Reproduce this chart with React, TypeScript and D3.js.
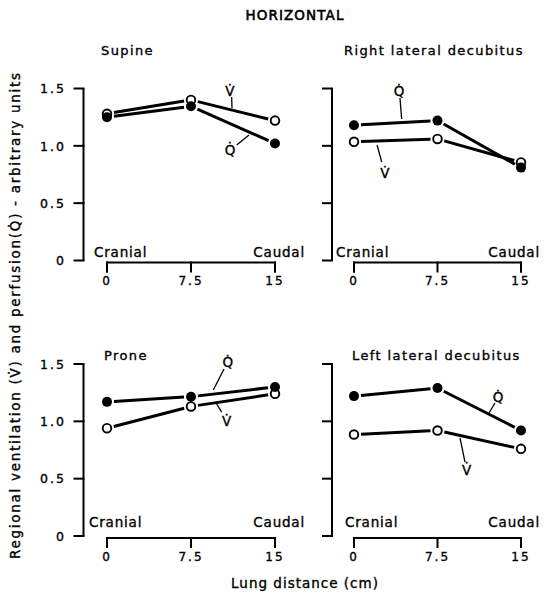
import React from "react";
import * as d3 from "d3";

const xTicks = [0, 7.5, 15];
const xTickLabels = ["0", "7.5", "15"];
const yTicks = [0, 0.5, 1.0, 1.5];
const yTickLabels = ["0", "0.5", "1.0", "1.5"];
const distances = [0, 7.5, 15];

const supineV = [1.28, 1.4, 1.22];
const supineQ = [1.25, 1.345, 1.02];
const rightV = [1.035, 1.06, 0.855];
const rightQ = [1.18, 1.22, 0.81];
const proneV = [0.94, 1.13, 1.24];
const proneQ = [1.17, 1.215, 1.3];
const leftV = [0.885, 0.92, 0.76];
const leftQ = [1.22, 1.29, 0.92];

const panelTitles = ["Supine", "Right lateral decubitus", "Prone", "Left lateral decubitus"];

type Ann = { t: string; x: number; y: number; l: [number, number, number, number] };
const supineAnn: Ann[] = [
  { t: "V", x: 10.98, y: 1.478, l: [11.13, 1.426, 11.16, 1.33] },
  { t: "Q", x: 10.98, y: 0.964, l: [11.58, 1.007, 12.68, 1.094] },
];
const rightAnn: Ann[] = [
  { t: "Q", x: 4.04, y: 1.478, l: [4.13, 1.417, 4.28, 1.234] },
  { t: "V", x: 2.78, y: 0.763, l: [2.07, 1.007, 2.49, 0.859] },
];
const proneAnn: Ann[] = [
  { t: "Q", x: 10.78, y: 1.517, l: [10.45, 1.456, 9.49, 1.273] },
  { t: "V", x: 10.69, y: 1.003, l: [9.79, 1.151, 10.24, 1.081] },
];
const leftAnn: Ann[] = [
  { t: "Q", x: 12.93, y: 1.212, l: [12.66, 1.16, 12.13, 1.073] },
  { t: "V", x: 10.12, y: 0.576, l: [9.52, 0.855, 9.97, 0.645] },
];

const FONT = "'DejaVu Sans', sans-serif";
const TS = { stroke: "#000", strokeWidth: 0.35 };

type PanelProps = {
  title: string;
  V: number[];
  Q: number[];
  ann: Ann[];
  axisX: number;
  x0: number;
  x1: number;
  y0: number;
  y1: number;
  showYLabels: boolean;
  titleX: number;
  titleY: number;
  cranialX: number;
  caudalEnd: number;
  craniaY: number;
};

function segs(pts: [number, number][], gap: number) {
  const out: string[] = [];
  for (let i = 0; i < pts.length - 1; i++) {
    const [ax, ay] = pts[i];
    const [bx, by] = pts[i + 1];
    const dx = bx - ax, dy = by - ay;
    const len = Math.hypot(dx, dy);
    const ux = dx / len, uy = dy / len;
    const p = d3.path();
    p.moveTo(ax + ux * gap, ay + uy * gap);
    p.lineTo(bx - ux * gap, by - uy * gap);
    out.push(p.toString());
  }
  return out;
}

function Panel(p: PanelProps) {
  const xs = d3.scaleLinear().domain([0, 15]).range([p.x0, p.x1]);
  const ys = d3.scaleLinear().domain([0, 1.5]).range([p.y0, p.y1]);
  const line = (vals: number[]) => vals.map((v, i) => [xs(distances[i]), ys(v)] as [number, number]);
  const vPts = line(p.V);
  const qPts = line(p.Q);
  const xAxisY = p.y0 + 2;
  return (
    <g>
      <text x={p.titleX} y={p.titleY} fontSize={13} letterSpacing={1.4} fontFamily={FONT} {...TS}>{p.title}</text>
      <path d={`M${p.axisX},${ys(1.5)}V${ys(0)}`} stroke="#000" strokeWidth={2} fill="none" />
      {yTicks.map((t, i) => (
        <g key={i}>
          <line x1={p.axisX - 10} x2={p.axisX + 1} y1={ys(t)} y2={ys(t)} stroke="#000" strokeWidth={2} />
          {p.showYLabels && (
            <text x={66} y={ys(t) + 4.8} textAnchor="end" fontSize={12.5} letterSpacing={2} fontFamily={FONT} {...TS}>
              {yTickLabels[i]}
            </text>
          )}
        </g>
      ))}
      <path d={`M${xs(0)},${xAxisY + 10}V${xAxisY}H${xs(15)}V${xAxisY + 10}`} stroke="#000" strokeWidth={2} fill="none" />
      {xTicks.map((t, i) => (
        <g key={i}>
          <line x1={xs(t)} x2={xs(t)} y1={xAxisY - 1} y2={xAxisY + 10} stroke="#000" strokeWidth={2} />
          <text x={xs(t)} y={xAxisY + 22.5} textAnchor="middle" fontSize={12} letterSpacing={2} fontFamily={FONT} {...TS}>
            {xTickLabels[i]}
          </text>
        </g>
      ))}
      <text x={p.cranialX} y={p.craniaY} fontSize={13.5} letterSpacing={0.8} fontFamily={FONT} {...TS}>Cranial</text>
      <text x={p.caudalEnd} y={p.craniaY} textAnchor="end" fontSize={13.5} letterSpacing={0.8} fontFamily={FONT} {...TS}>Caudal</text>
      {segs(vPts, 7).map((d, i) => (
        <path key={"v" + i} d={d} stroke="#000" strokeWidth={3} fill="none" />
      ))}
      {segs(qPts, 7).map((d, i) => (
        <path key={"q" + i} d={d} stroke="#000" strokeWidth={3} fill="none" />
      ))}
      {vPts.map(([x, y], i) => (
        <circle key={"vc" + i} cx={x} cy={y} r={4.3} fill="#fff" stroke="#000" strokeWidth={1.9} />
      ))}
      {qPts.map(([x, y], i) => (
        <circle key={"qc" + i} cx={x} cy={y} r={5} fill="#000" />
      ))}
      {p.ann.map((a, i) => (
        <g key={"a" + i}>
          <line x1={xs(a.l[0])} y1={ys(a.l[1])} x2={xs(a.l[2])} y2={ys(a.l[3])} stroke="#000" strokeWidth={1.3} />
          <text x={xs(a.x)} y={ys(a.y) + 5} textAnchor="middle" fontSize={13.5} fontFamily={FONT} {...TS}>
            {a.t + "\u0307"}
          </text>
        </g>
      ))}
    </g>
  );
}

export default function App() {
  return (
    <svg width={546} height={599} style={{ position: "absolute", left: 0, top: 0, background: "#fff" }}>
      <rect width={546} height={599} fill="#fff" />
      <text x={295} y={19.5} textAnchor="middle" fontSize={13.5} letterSpacing={1.1} fontFamily={FONT} stroke="#000" strokeWidth={0.6}>HORIZONTAL</text>
      <Panel title={panelTitles[0]} V={supineV} Q={supineQ} ann={supineAnn} axisX={83.5} x0={107} x1={275} y0={260.5} y1={88.5}
        showYLabels titleX={101} titleY={55} cranialX={94} caudalEnd={305} craniaY={257} />
      <Panel title={panelTitles[1]} V={rightV} Q={rightQ} ann={rightAnn} axisX={332} x0={354} x1={521} y0={260.5} y1={88.5}
        showYLabels={false} titleX={344} titleY={55} cranialX={336} caudalEnd={540} craniaY={257} />
      <Panel title={panelTitles[2]} V={proneV} Q={proneQ} ann={proneAnn} axisX={83.5} x0={107} x1={275} y0={536} y1={364}
        showYLabels titleX={104} titleY={360} cranialX={89} caudalEnd={305} craniaY={527} />
      <Panel title={panelTitles[3]} V={leftV} Q={leftQ} ann={leftAnn} axisX={332} x0={354} x1={521} y0={536} y1={364}
        showYLabels={false} titleX={352} titleY={360} cranialX={345} caudalEnd={540} craniaY={527} />
      <text transform="translate(20,316) rotate(-90)" textAnchor="middle" fontSize={13.5} textLength={486}
        lengthAdjust="spacing" fontFamily={FONT} {...TS}>
        {"Regional ventilation (V\u0307) and perfusion(Q\u0307) - arbitrary units"}
      </text>
      <text x={305} y={588} textAnchor="middle" fontSize={13.5} letterSpacing={1} fontFamily={FONT} {...TS}>Lung distance (cm)</text>
    </svg>
  );
}
